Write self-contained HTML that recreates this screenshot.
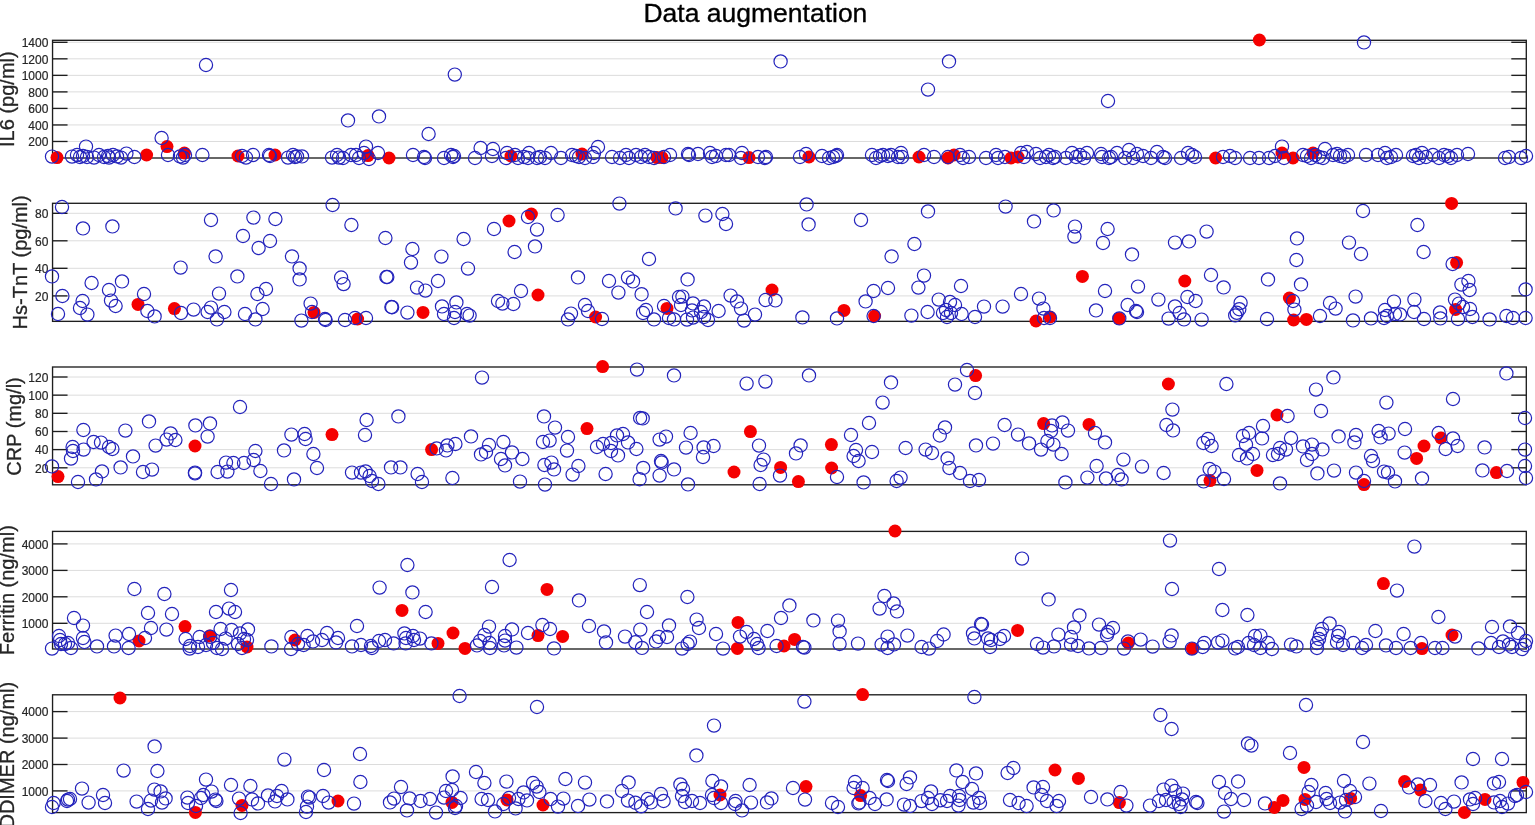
<!DOCTYPE html><html><head><meta charset="utf-8"><title>Data augmentation</title>
<style>html,body{margin:0;padding:0;background:#fff;overflow:hidden;}svg{display:block;}text{font-family:"Liberation Sans",Arial,Helvetica,sans-serif;}</style></head><body>
<svg width="1535" height="825" viewBox="0 0 1535 825">
<rect width="1535" height="825" fill="#fff"/>
<text transform="translate(755.4,21.9)" font-size="26.5" text-anchor="middle" fill="#000" stroke="#000" stroke-width="0.35">Data augmentation</text>
<line x1="52.55" y1="42.3" x2="1526.3" y2="42.3" stroke="#dcdcdc" stroke-width="1"/>
<line x1="52.55" y1="58.83" x2="1526.3" y2="58.83" stroke="#dcdcdc" stroke-width="1"/>
<line x1="52.55" y1="75.36" x2="1526.3" y2="75.36" stroke="#dcdcdc" stroke-width="1"/>
<line x1="52.55" y1="91.89" x2="1526.3" y2="91.89" stroke="#dcdcdc" stroke-width="1"/>
<line x1="52.55" y1="108.42" x2="1526.3" y2="108.42" stroke="#dcdcdc" stroke-width="1"/>
<line x1="52.55" y1="124.95" x2="1526.3" y2="124.95" stroke="#dcdcdc" stroke-width="1"/>
<line x1="52.55" y1="141.48" x2="1526.3" y2="141.48" stroke="#dcdcdc" stroke-width="1"/>
<line x1="52.55" y1="42.3" x2="67.55" y2="42.3" stroke="#1e1e1e" stroke-width="1.35"/>
<line x1="1511.3" y1="42.3" x2="1526.3" y2="42.3" stroke="#1e1e1e" stroke-width="1.35"/>
<line x1="52.55" y1="58.83" x2="67.55" y2="58.83" stroke="#1e1e1e" stroke-width="1.35"/>
<line x1="1511.3" y1="58.83" x2="1526.3" y2="58.83" stroke="#1e1e1e" stroke-width="1.35"/>
<line x1="52.55" y1="75.36" x2="67.55" y2="75.36" stroke="#1e1e1e" stroke-width="1.35"/>
<line x1="1511.3" y1="75.36" x2="1526.3" y2="75.36" stroke="#1e1e1e" stroke-width="1.35"/>
<line x1="52.55" y1="91.89" x2="67.55" y2="91.89" stroke="#1e1e1e" stroke-width="1.35"/>
<line x1="1511.3" y1="91.89" x2="1526.3" y2="91.89" stroke="#1e1e1e" stroke-width="1.35"/>
<line x1="52.55" y1="108.42" x2="67.55" y2="108.42" stroke="#1e1e1e" stroke-width="1.35"/>
<line x1="1511.3" y1="108.42" x2="1526.3" y2="108.42" stroke="#1e1e1e" stroke-width="1.35"/>
<line x1="52.55" y1="124.95" x2="67.55" y2="124.95" stroke="#1e1e1e" stroke-width="1.35"/>
<line x1="1511.3" y1="124.95" x2="1526.3" y2="124.95" stroke="#1e1e1e" stroke-width="1.35"/>
<line x1="52.55" y1="141.48" x2="67.55" y2="141.48" stroke="#1e1e1e" stroke-width="1.35"/>
<line x1="1511.3" y1="141.48" x2="1526.3" y2="141.48" stroke="#1e1e1e" stroke-width="1.35"/>
<rect x="52.55" y="40.3" width="1473.75" height="117.7" fill="none" stroke="#1e1e1e" stroke-width="1.35"/>
<text x="48.4" y="47.15" font-size="12" text-anchor="end" fill="#262626" stroke="#262626" stroke-width="0.2">1400</text>
<text x="48.4" y="63.68" font-size="12" text-anchor="end" fill="#262626" stroke="#262626" stroke-width="0.2">1200</text>
<text x="48.4" y="80.21" font-size="12" text-anchor="end" fill="#262626" stroke="#262626" stroke-width="0.2">1000</text>
<text x="48.4" y="96.74" font-size="12" text-anchor="end" fill="#262626" stroke="#262626" stroke-width="0.2">800</text>
<text x="48.4" y="113.27" font-size="12" text-anchor="end" fill="#262626" stroke="#262626" stroke-width="0.2">600</text>
<text x="48.4" y="129.8" font-size="12" text-anchor="end" fill="#262626" stroke="#262626" stroke-width="0.2">400</text>
<text x="48.4" y="146.33" font-size="12" text-anchor="end" fill="#262626" stroke="#262626" stroke-width="0.2">200</text>
<text transform="translate(14.1,99.15) rotate(-90)" font-size="20" text-anchor="middle" fill="#262626" stroke="#262626" stroke-width="0.3">IL6 (pg/ml)</text>
<g fill="#f50000"><circle cx="57" cy="157.6" r="6.5"/><circle cx="146.6" cy="155" r="6.5"/><circle cx="167" cy="146.6" r="6.5"/><circle cx="184.4" cy="153" r="6.5"/><circle cx="238" cy="156" r="6.5"/><circle cx="275" cy="155" r="6.5"/><circle cx="368" cy="155.6" r="6.5"/><circle cx="389" cy="158" r="6.5"/><circle cx="511" cy="156" r="6.5"/><circle cx="582" cy="154" r="6.5"/><circle cx="657" cy="157.6" r="6.5"/><circle cx="662" cy="157.6" r="6.5"/><circle cx="749" cy="157.6" r="6.5"/><circle cx="809" cy="157" r="6.5"/><circle cx="919" cy="157" r="6.5"/><circle cx="948" cy="158" r="6.5"/><circle cx="954" cy="155" r="6.5"/><circle cx="1011" cy="158" r="6.5"/><circle cx="1018" cy="157" r="6.5"/><circle cx="1215.6" cy="158" r="6.5"/><circle cx="1259.4" cy="40" r="6.5"/><circle cx="1282" cy="153" r="6.5"/><circle cx="1293" cy="158" r="6.5"/><circle cx="1313" cy="153" r="6.5"/></g>
<g fill="none" stroke="#2424bc" stroke-width="1.2"><circle cx="52" cy="156.6" r="6.6"/><circle cx="72" cy="156.6" r="6.6"/><circle cx="77" cy="155" r="6.6"/><circle cx="80" cy="157" r="6.6"/><circle cx="83" cy="156" r="6.6"/><circle cx="87" cy="157" r="6.6"/><circle cx="86" cy="146.6" r="6.6"/><circle cx="94" cy="157.6" r="6.6"/><circle cx="99" cy="155" r="6.6"/><circle cx="104" cy="157" r="6.6"/><circle cx="108" cy="156" r="6.6"/><circle cx="109" cy="157.6" r="6.6"/><circle cx="113" cy="155" r="6.6"/><circle cx="117" cy="156.4" r="6.6"/><circle cx="121" cy="157.6" r="6.6"/><circle cx="126.4" cy="153.6" r="6.6"/><circle cx="134.4" cy="157" r="6.6"/><circle cx="161.6" cy="138" r="6.6"/><circle cx="168" cy="155" r="6.6"/><circle cx="180" cy="156.4" r="6.6"/><circle cx="183" cy="157.6" r="6.6"/><circle cx="185" cy="155" r="6.6"/><circle cx="202.4" cy="155" r="6.6"/><circle cx="206" cy="65" r="6.6"/><circle cx="242" cy="156" r="6.6"/><circle cx="246" cy="157.6" r="6.6"/><circle cx="253" cy="155" r="6.6"/><circle cx="269" cy="155" r="6.6"/><circle cx="270" cy="156" r="6.6"/><circle cx="288" cy="157.6" r="6.6"/><circle cx="293" cy="155" r="6.6"/><circle cx="295" cy="157" r="6.6"/><circle cx="297" cy="156.4" r="6.6"/><circle cx="302" cy="156.4" r="6.6"/><circle cx="332" cy="157.6" r="6.6"/><circle cx="337" cy="155" r="6.6"/><circle cx="339" cy="157.6" r="6.6"/><circle cx="348" cy="120.4" r="6.6"/><circle cx="379" cy="116.4" r="6.6"/><circle cx="428.6" cy="134" r="6.6"/><circle cx="454.8" cy="74.6" r="6.6"/><circle cx="343" cy="158" r="6.6"/><circle cx="351" cy="155" r="6.6"/><circle cx="356" cy="155" r="6.6"/><circle cx="359" cy="158" r="6.6"/><circle cx="364" cy="153" r="6.6"/><circle cx="366" cy="146.6" r="6.6"/><circle cx="369" cy="159" r="6.6"/><circle cx="378" cy="153" r="6.6"/><circle cx="413" cy="155" r="6.6"/><circle cx="424" cy="157" r="6.6"/><circle cx="425" cy="158" r="6.6"/><circle cx="444" cy="158" r="6.6"/><circle cx="451" cy="155" r="6.6"/><circle cx="453" cy="157" r="6.6"/><circle cx="454" cy="156" r="6.6"/><circle cx="475" cy="158" r="6.6"/><circle cx="480.6" cy="148" r="6.6"/><circle cx="492" cy="156" r="6.6"/><circle cx="493" cy="149" r="6.6"/><circle cx="507" cy="153" r="6.6"/><circle cx="506" cy="158" r="6.6"/><circle cx="515" cy="155" r="6.6"/><circle cx="518" cy="158" r="6.6"/><circle cx="524" cy="157" r="6.6"/><circle cx="529" cy="153" r="6.6"/><circle cx="528" cy="158" r="6.6"/><circle cx="537" cy="158" r="6.6"/><circle cx="540" cy="157" r="6.6"/><circle cx="545" cy="158" r="6.6"/><circle cx="551" cy="153" r="6.6"/><circle cx="561" cy="158" r="6.6"/><circle cx="572" cy="155" r="6.6"/><circle cx="576" cy="156" r="6.6"/><circle cx="579" cy="157" r="6.6"/><circle cx="585" cy="158" r="6.6"/><circle cx="593" cy="157" r="6.6"/><circle cx="594" cy="153" r="6.6"/><circle cx="598" cy="147" r="6.6"/><circle cx="612" cy="157" r="6.6"/><circle cx="620" cy="158" r="6.6"/><circle cx="626" cy="155" r="6.6"/><circle cx="629" cy="158" r="6.6"/><circle cx="636" cy="155" r="6.6"/><circle cx="780.6" cy="61.4" r="6.6"/><circle cx="928" cy="89.6" r="6.6"/><circle cx="641" cy="157" r="6.6"/><circle cx="645" cy="155" r="6.6"/><circle cx="649" cy="157" r="6.6"/><circle cx="654" cy="158" r="6.6"/><circle cx="664" cy="157" r="6.6"/><circle cx="670" cy="155" r="6.6"/><circle cx="688" cy="154" r="6.6"/><circle cx="689" cy="155" r="6.6"/><circle cx="698" cy="154" r="6.6"/><circle cx="710" cy="153" r="6.6"/><circle cx="712" cy="157" r="6.6"/><circle cx="716" cy="156" r="6.6"/><circle cx="726" cy="155" r="6.6"/><circle cx="729" cy="155" r="6.6"/><circle cx="742" cy="153" r="6.6"/><circle cx="741" cy="158" r="6.6"/><circle cx="758" cy="157" r="6.6"/><circle cx="765" cy="158" r="6.6"/><circle cx="766" cy="157" r="6.6"/><circle cx="800" cy="157" r="6.6"/><circle cx="806" cy="154" r="6.6"/><circle cx="822" cy="156" r="6.6"/><circle cx="829" cy="158" r="6.6"/><circle cx="833" cy="157" r="6.6"/><circle cx="836" cy="156" r="6.6"/><circle cx="837" cy="155" r="6.6"/><circle cx="872" cy="155" r="6.6"/><circle cx="876" cy="158" r="6.6"/><circle cx="880" cy="156" r="6.6"/><circle cx="883" cy="155" r="6.6"/><circle cx="888" cy="156" r="6.6"/><circle cx="891" cy="155" r="6.6"/><circle cx="898" cy="157" r="6.6"/><circle cx="901" cy="153" r="6.6"/><circle cx="902" cy="157" r="6.6"/><circle cx="924" cy="155" r="6.6"/><circle cx="934" cy="157" r="6.6"/><circle cx="949" cy="61.4" r="6.6"/><circle cx="1108" cy="101" r="6.6"/><circle cx="948" cy="157" r="6.6"/><circle cx="960" cy="155" r="6.6"/><circle cx="963" cy="158" r="6.6"/><circle cx="969" cy="157" r="6.6"/><circle cx="986" cy="158" r="6.6"/><circle cx="996" cy="155" r="6.6"/><circle cx="998" cy="158" r="6.6"/><circle cx="1005" cy="157" r="6.6"/><circle cx="1021" cy="153" r="6.6"/><circle cx="1027" cy="152" r="6.6"/><circle cx="1024" cy="157" r="6.6"/><circle cx="1036" cy="154" r="6.6"/><circle cx="1040" cy="158" r="6.6"/><circle cx="1046" cy="157" r="6.6"/><circle cx="1049" cy="155" r="6.6"/><circle cx="1053" cy="158" r="6.6"/><circle cx="1055" cy="157" r="6.6"/><circle cx="1066" cy="158" r="6.6"/><circle cx="1072" cy="153" r="6.6"/><circle cx="1076" cy="157" r="6.6"/><circle cx="1080" cy="155" r="6.6"/><circle cx="1084" cy="158" r="6.6"/><circle cx="1087" cy="153" r="6.6"/><circle cx="1101" cy="154" r="6.6"/><circle cx="1102" cy="157" r="6.6"/><circle cx="1109" cy="158" r="6.6"/><circle cx="1111" cy="157" r="6.6"/><circle cx="1117" cy="153" r="6.6"/><circle cx="1125" cy="158" r="6.6"/><circle cx="1129" cy="150" r="6.6"/><circle cx="1133" cy="158" r="6.6"/><circle cx="1137" cy="154" r="6.6"/><circle cx="1143" cy="156" r="6.6"/><circle cx="1151" cy="158" r="6.6"/><circle cx="1157" cy="152" r="6.6"/><circle cx="1163" cy="157" r="6.6"/><circle cx="1165" cy="158" r="6.6"/><circle cx="1181" cy="158" r="6.6"/><circle cx="1188" cy="153" r="6.6"/><circle cx="1192" cy="155" r="6.6"/><circle cx="1195" cy="157" r="6.6"/><circle cx="1223" cy="157" r="6.6"/><circle cx="1230" cy="156" r="6.6"/><circle cx="1235" cy="158" r="6.6"/><circle cx="1364" cy="42.4" r="6.6"/><circle cx="1250" cy="158" r="6.6"/><circle cx="1259" cy="158" r="6.6"/><circle cx="1269" cy="158" r="6.6"/><circle cx="1275" cy="156" r="6.6"/><circle cx="1282" cy="146.6" r="6.6"/><circle cx="1284" cy="158" r="6.6"/><circle cx="1303" cy="155" r="6.6"/><circle cx="1307" cy="156" r="6.6"/><circle cx="1311" cy="158" r="6.6"/><circle cx="1315" cy="155" r="6.6"/><circle cx="1319" cy="157" r="6.6"/><circle cx="1323" cy="158" r="6.6"/><circle cx="1325" cy="149" r="6.6"/><circle cx="1333" cy="155" r="6.6"/><circle cx="1337" cy="154" r="6.6"/><circle cx="1340" cy="156" r="6.6"/><circle cx="1344" cy="157" r="6.6"/><circle cx="1348" cy="155" r="6.6"/><circle cx="1366" cy="155" r="6.6"/><circle cx="1378" cy="155" r="6.6"/><circle cx="1385" cy="153" r="6.6"/><circle cx="1387" cy="158" r="6.6"/><circle cx="1391" cy="157" r="6.6"/><circle cx="1396" cy="155" r="6.6"/><circle cx="1413" cy="156" r="6.6"/><circle cx="1416" cy="155" r="6.6"/><circle cx="1419" cy="158" r="6.6"/><circle cx="1422" cy="153" r="6.6"/><circle cx="1426" cy="157" r="6.6"/><circle cx="1433" cy="155" r="6.6"/><circle cx="1439" cy="158" r="6.6"/><circle cx="1444" cy="155" r="6.6"/><circle cx="1448" cy="156" r="6.6"/><circle cx="1451" cy="158" r="6.6"/><circle cx="1457" cy="155" r="6.6"/><circle cx="1468" cy="154" r="6.6"/><circle cx="1505" cy="158" r="6.6"/><circle cx="1509" cy="157" r="6.6"/><circle cx="1521" cy="158" r="6.6"/><circle cx="1526" cy="156" r="6.6"/></g>
<line x1="52.55" y1="213.3" x2="1526.3" y2="213.3" stroke="#dcdcdc" stroke-width="1"/>
<line x1="52.55" y1="240.8" x2="1526.3" y2="240.8" stroke="#dcdcdc" stroke-width="1"/>
<line x1="52.55" y1="268.3" x2="1526.3" y2="268.3" stroke="#dcdcdc" stroke-width="1"/>
<line x1="52.55" y1="295.9" x2="1526.3" y2="295.9" stroke="#dcdcdc" stroke-width="1"/>
<line x1="52.55" y1="213.3" x2="67.55" y2="213.3" stroke="#1e1e1e" stroke-width="1.35"/>
<line x1="1511.3" y1="213.3" x2="1526.3" y2="213.3" stroke="#1e1e1e" stroke-width="1.35"/>
<line x1="52.55" y1="240.8" x2="67.55" y2="240.8" stroke="#1e1e1e" stroke-width="1.35"/>
<line x1="1511.3" y1="240.8" x2="1526.3" y2="240.8" stroke="#1e1e1e" stroke-width="1.35"/>
<line x1="52.55" y1="268.3" x2="67.55" y2="268.3" stroke="#1e1e1e" stroke-width="1.35"/>
<line x1="1511.3" y1="268.3" x2="1526.3" y2="268.3" stroke="#1e1e1e" stroke-width="1.35"/>
<line x1="52.55" y1="295.9" x2="67.55" y2="295.9" stroke="#1e1e1e" stroke-width="1.35"/>
<line x1="1511.3" y1="295.9" x2="1526.3" y2="295.9" stroke="#1e1e1e" stroke-width="1.35"/>
<rect x="52.55" y="203.3" width="1473.75" height="118.05" fill="none" stroke="#1e1e1e" stroke-width="1.35"/>
<text x="48.4" y="218.15" font-size="12" text-anchor="end" fill="#262626" stroke="#262626" stroke-width="0.2">80</text>
<text x="48.4" y="245.65" font-size="12" text-anchor="end" fill="#262626" stroke="#262626" stroke-width="0.2">60</text>
<text x="48.4" y="273.15" font-size="12" text-anchor="end" fill="#262626" stroke="#262626" stroke-width="0.2">40</text>
<text x="48.4" y="300.75" font-size="12" text-anchor="end" fill="#262626" stroke="#262626" stroke-width="0.2">20</text>
<text transform="translate(27.3,262.33) rotate(-90)" font-size="20" text-anchor="middle" fill="#262626" stroke="#262626" stroke-width="0.3">Hs-TnT (pg/ml)</text>
<g fill="#f50000"><circle cx="138" cy="304.4" r="6.5"/><circle cx="174.4" cy="308.6" r="6.5"/><circle cx="314" cy="312.4" r="6.5"/><circle cx="509" cy="221" r="6.5"/><circle cx="531.4" cy="214" r="6.5"/><circle cx="538" cy="295" r="6.5"/><circle cx="423" cy="312.4" r="6.5"/><circle cx="357.6" cy="319" r="6.5"/><circle cx="595.6" cy="317" r="6.5"/><circle cx="667" cy="308.4" r="6.5"/><circle cx="772" cy="290" r="6.5"/><circle cx="844" cy="310.4" r="6.5"/><circle cx="874.6" cy="316" r="6.5"/><circle cx="1082.4" cy="276.4" r="6.5"/><circle cx="1184.8" cy="281" r="6.5"/><circle cx="1036" cy="321" r="6.5"/><circle cx="1050" cy="317" r="6.5"/><circle cx="1119" cy="318.6" r="6.5"/><circle cx="1451.6" cy="203.4" r="6.5"/><circle cx="1456.6" cy="262.6" r="6.5"/><circle cx="1289.4" cy="298" r="6.5"/><circle cx="1293.6" cy="320" r="6.5"/><circle cx="1306.4" cy="319.4" r="6.5"/><circle cx="1455.6" cy="309.4" r="6.5"/></g>
<g fill="none" stroke="#2424bc" stroke-width="1.2"><circle cx="62" cy="207" r="6.6"/><circle cx="83" cy="228.4" r="6.6"/><circle cx="112.4" cy="226.4" r="6.6"/><circle cx="211" cy="220" r="6.6"/><circle cx="253.4" cy="217.6" r="6.6"/><circle cx="275.4" cy="219" r="6.6"/><circle cx="332.6" cy="205" r="6.6"/><circle cx="243" cy="236" r="6.6"/><circle cx="270" cy="241" r="6.6"/><circle cx="258.6" cy="248" r="6.6"/><circle cx="215.6" cy="256.4" r="6.6"/><circle cx="292" cy="256.4" r="6.6"/><circle cx="180.6" cy="267.6" r="6.6"/><circle cx="299.6" cy="268.4" r="6.6"/><circle cx="52" cy="276.4" r="6.6"/><circle cx="237.4" cy="276.4" r="6.6"/><circle cx="299.6" cy="279.4" r="6.6"/><circle cx="341.1" cy="277.5" r="6.6"/><circle cx="343.6" cy="284.1" r="6.6"/><circle cx="91.6" cy="283" r="6.6"/><circle cx="122" cy="281.4" r="6.6"/><circle cx="109" cy="290" r="6.6"/><circle cx="144" cy="294" r="6.6"/><circle cx="219" cy="293.6" r="6.6"/><circle cx="266" cy="289" r="6.6"/><circle cx="257.4" cy="294" r="6.6"/><circle cx="62.4" cy="296" r="6.6"/><circle cx="82.6" cy="301" r="6.6"/><circle cx="111" cy="300.6" r="6.6"/><circle cx="115.6" cy="306" r="6.6"/><circle cx="80" cy="308" r="6.6"/><circle cx="58" cy="314" r="6.6"/><circle cx="87.4" cy="314.6" r="6.6"/><circle cx="147.4" cy="311" r="6.6"/><circle cx="154.6" cy="316.4" r="6.6"/><circle cx="181" cy="313" r="6.6"/><circle cx="193.6" cy="309.6" r="6.6"/><circle cx="211" cy="307.6" r="6.6"/><circle cx="207.6" cy="312" r="6.6"/><circle cx="224.4" cy="312" r="6.6"/><circle cx="217" cy="319.4" r="6.6"/><circle cx="245" cy="314" r="6.6"/><circle cx="255.4" cy="319.4" r="6.6"/><circle cx="262.6" cy="309" r="6.6"/><circle cx="310.6" cy="303.6" r="6.6"/><circle cx="312" cy="312" r="6.6"/><circle cx="301.4" cy="320.6" r="6.6"/><circle cx="325" cy="319" r="6.6"/><circle cx="325.6" cy="320" r="6.6"/><circle cx="351.4" cy="225" r="6.6"/><circle cx="385.4" cy="238" r="6.6"/><circle cx="412.4" cy="249" r="6.6"/><circle cx="411" cy="262.6" r="6.6"/><circle cx="441.4" cy="256.6" r="6.6"/><circle cx="463.6" cy="239" r="6.6"/><circle cx="468" cy="268.6" r="6.6"/><circle cx="494" cy="229" r="6.6"/><circle cx="528" cy="217" r="6.6"/><circle cx="537" cy="229.6" r="6.6"/><circle cx="557.6" cy="215" r="6.6"/><circle cx="619.4" cy="203.6" r="6.6"/><circle cx="514.6" cy="252" r="6.6"/><circle cx="535" cy="246.4" r="6.6"/><circle cx="386.4" cy="277" r="6.6"/><circle cx="387.3" cy="277" r="6.6"/><circle cx="438" cy="281" r="6.6"/><circle cx="417" cy="287.6" r="6.6"/><circle cx="425.4" cy="290.6" r="6.6"/><circle cx="521" cy="291" r="6.6"/><circle cx="578" cy="277.4" r="6.6"/><circle cx="609" cy="281" r="6.6"/><circle cx="618.4" cy="292.6" r="6.6"/><circle cx="628" cy="277.6" r="6.6"/><circle cx="633" cy="281.4" r="6.6"/><circle cx="641.6" cy="294.2" r="6.6"/><circle cx="391.4" cy="307" r="6.6"/><circle cx="392.1" cy="307.2" r="6.6"/><circle cx="407.4" cy="312.6" r="6.6"/><circle cx="442" cy="306.4" r="6.6"/><circle cx="444" cy="314" r="6.6"/><circle cx="456.4" cy="302.4" r="6.6"/><circle cx="455" cy="312" r="6.6"/><circle cx="454" cy="318" r="6.6"/><circle cx="467" cy="314" r="6.6"/><circle cx="469.6" cy="315.6" r="6.6"/><circle cx="498" cy="301" r="6.6"/><circle cx="502.4" cy="303.6" r="6.6"/><circle cx="513.4" cy="304" r="6.6"/><circle cx="585" cy="305" r="6.6"/><circle cx="588" cy="311" r="6.6"/><circle cx="571" cy="313.6" r="6.6"/><circle cx="568" cy="319.4" r="6.6"/><circle cx="602" cy="319" r="6.6"/><circle cx="345" cy="320" r="6.6"/><circle cx="355" cy="318" r="6.6"/><circle cx="366" cy="318" r="6.6"/><circle cx="675.6" cy="208.4" r="6.6"/><circle cx="705.4" cy="215.6" r="6.6"/><circle cx="722.4" cy="214" r="6.6"/><circle cx="726" cy="224" r="6.6"/><circle cx="806.6" cy="204.4" r="6.6"/><circle cx="808.6" cy="224.4" r="6.6"/><circle cx="861" cy="220" r="6.6"/><circle cx="928" cy="211.4" r="6.6"/><circle cx="649" cy="259" r="6.6"/><circle cx="914.4" cy="244" r="6.6"/><circle cx="891.6" cy="256.4" r="6.6"/><circle cx="687.6" cy="279.4" r="6.6"/><circle cx="924" cy="275.6" r="6.6"/><circle cx="918.4" cy="287.6" r="6.6"/><circle cx="888" cy="288" r="6.6"/><circle cx="873.6" cy="291" r="6.6"/><circle cx="679" cy="297" r="6.6"/><circle cx="682.4" cy="296.6" r="6.6"/><circle cx="730.6" cy="295.6" r="6.6"/><circle cx="737" cy="301.4" r="6.6"/><circle cx="741" cy="308.6" r="6.6"/><circle cx="765.6" cy="300" r="6.6"/><circle cx="775.4" cy="300.4" r="6.6"/><circle cx="865.6" cy="301.4" r="6.6"/><circle cx="938.7" cy="299.6" r="6.6"/><circle cx="664" cy="306" r="6.6"/><circle cx="681" cy="305" r="6.6"/><circle cx="693" cy="303.4" r="6.6"/><circle cx="704" cy="306.4" r="6.6"/><circle cx="692" cy="310.4" r="6.6"/><circle cx="701" cy="312" r="6.6"/><circle cx="646" cy="310" r="6.6"/><circle cx="643" cy="313" r="6.6"/><circle cx="654" cy="319.4" r="6.6"/><circle cx="669" cy="318" r="6.6"/><circle cx="674" cy="319.4" r="6.6"/><circle cx="687" cy="319.6" r="6.6"/><circle cx="693" cy="317.6" r="6.6"/><circle cx="704" cy="317" r="6.6"/><circle cx="708" cy="320" r="6.6"/><circle cx="718.6" cy="311" r="6.6"/><circle cx="744" cy="320.6" r="6.6"/><circle cx="755" cy="314.6" r="6.6"/><circle cx="802.4" cy="317.4" r="6.6"/><circle cx="837" cy="318.4" r="6.6"/><circle cx="873.6" cy="316" r="6.6"/><circle cx="911.4" cy="315.6" r="6.6"/><circle cx="927.6" cy="312" r="6.6"/><circle cx="1005.6" cy="206.6" r="6.6"/><circle cx="1053.6" cy="210.4" r="6.6"/><circle cx="1034" cy="221.4" r="6.6"/><circle cx="1075" cy="226.6" r="6.6"/><circle cx="1074.4" cy="236.6" r="6.6"/><circle cx="1107.6" cy="229" r="6.6"/><circle cx="1103" cy="243" r="6.6"/><circle cx="1132" cy="254.4" r="6.6"/><circle cx="1175" cy="242.6" r="6.6"/><circle cx="1189" cy="241.4" r="6.6"/><circle cx="1206.6" cy="231.6" r="6.6"/><circle cx="961" cy="286" r="6.6"/><circle cx="1021" cy="294" r="6.6"/><circle cx="1039" cy="298.6" r="6.6"/><circle cx="1043.4" cy="308.6" r="6.6"/><circle cx="1105" cy="291" r="6.6"/><circle cx="1138" cy="286.6" r="6.6"/><circle cx="1211" cy="275" r="6.6"/><circle cx="1223.6" cy="287.4" r="6.6"/><circle cx="1158.4" cy="299.6" r="6.6"/><circle cx="1187.4" cy="297" r="6.6"/><circle cx="1195.6" cy="301" r="6.6"/><circle cx="1175" cy="306.4" r="6.6"/><circle cx="1179.6" cy="313" r="6.6"/><circle cx="1168.6" cy="318.6" r="6.6"/><circle cx="1184" cy="319.4" r="6.6"/><circle cx="1201.6" cy="319.6" r="6.6"/><circle cx="1127.6" cy="305" r="6.6"/><circle cx="1136" cy="311" r="6.6"/><circle cx="1137" cy="312" r="6.6"/><circle cx="1096" cy="310.4" r="6.6"/><circle cx="984" cy="306.6" r="6.6"/><circle cx="1002.6" cy="306.6" r="6.6"/><circle cx="975" cy="317" r="6.6"/><circle cx="961.6" cy="314" r="6.6"/><circle cx="950" cy="302" r="6.6"/><circle cx="955" cy="305" r="6.6"/><circle cx="946" cy="310" r="6.6"/><circle cx="947" cy="317" r="6.6"/><circle cx="943" cy="313" r="6.6"/><circle cx="951" cy="313" r="6.6"/><circle cx="1044" cy="318" r="6.6"/><circle cx="1050" cy="318" r="6.6"/><circle cx="1119.3" cy="318.4" r="6.6"/><circle cx="1363" cy="211" r="6.6"/><circle cx="1417.4" cy="225" r="6.6"/><circle cx="1297" cy="238.4" r="6.6"/><circle cx="1349" cy="242.6" r="6.6"/><circle cx="1361" cy="254" r="6.6"/><circle cx="1423.6" cy="252" r="6.6"/><circle cx="1296.4" cy="260" r="6.6"/><circle cx="1452.6" cy="264" r="6.6"/><circle cx="1268" cy="279.4" r="6.6"/><circle cx="1301" cy="284.4" r="6.6"/><circle cx="1461.4" cy="284.6" r="6.6"/><circle cx="1468.4" cy="281" r="6.6"/><circle cx="1469.6" cy="290" r="6.6"/><circle cx="1525.6" cy="289.4" r="6.6"/><circle cx="1355.6" cy="296.6" r="6.6"/><circle cx="1394" cy="301.6" r="6.6"/><circle cx="1414.4" cy="299.6" r="6.6"/><circle cx="1330" cy="303" r="6.6"/><circle cx="1335.6" cy="308.6" r="6.6"/><circle cx="1293" cy="301" r="6.6"/><circle cx="1294.4" cy="309.6" r="6.6"/><circle cx="1240.6" cy="302.8" r="6.6"/><circle cx="1239.3" cy="309.2" r="6.6"/><circle cx="1236.8" cy="312.8" r="6.6"/><circle cx="1235.2" cy="315.4" r="6.6"/><circle cx="1455" cy="299.6" r="6.6"/><circle cx="1459" cy="303.6" r="6.6"/><circle cx="1463" cy="307" r="6.6"/><circle cx="1470" cy="309" r="6.6"/><circle cx="1385" cy="310" r="6.6"/><circle cx="1387" cy="316" r="6.6"/><circle cx="1395" cy="314" r="6.6"/><circle cx="1400" cy="314.4" r="6.6"/><circle cx="1414" cy="312" r="6.6"/><circle cx="1440" cy="312.4" r="6.6"/><circle cx="1267" cy="319" r="6.6"/><circle cx="1320" cy="316" r="6.6"/><circle cx="1353" cy="320.4" r="6.6"/><circle cx="1371" cy="318.4" r="6.6"/><circle cx="1384" cy="318" r="6.6"/><circle cx="1424" cy="319" r="6.6"/><circle cx="1440.4" cy="318.4" r="6.6"/><circle cx="1458" cy="319" r="6.6"/><circle cx="1472.4" cy="317" r="6.6"/><circle cx="1489.6" cy="319.4" r="6.6"/><circle cx="1506.4" cy="316" r="6.6"/><circle cx="1513" cy="318" r="6.6"/><circle cx="1525.6" cy="318" r="6.6"/></g>
<line x1="52.55" y1="377" x2="1526.3" y2="377" stroke="#dcdcdc" stroke-width="1"/>
<line x1="52.55" y1="395.15" x2="1526.3" y2="395.15" stroke="#dcdcdc" stroke-width="1"/>
<line x1="52.55" y1="413.3" x2="1526.3" y2="413.3" stroke="#dcdcdc" stroke-width="1"/>
<line x1="52.55" y1="431.5" x2="1526.3" y2="431.5" stroke="#dcdcdc" stroke-width="1"/>
<line x1="52.55" y1="449.6" x2="1526.3" y2="449.6" stroke="#dcdcdc" stroke-width="1"/>
<line x1="52.55" y1="467.8" x2="1526.3" y2="467.8" stroke="#dcdcdc" stroke-width="1"/>
<line x1="52.55" y1="377" x2="67.55" y2="377" stroke="#1e1e1e" stroke-width="1.35"/>
<line x1="1511.3" y1="377" x2="1526.3" y2="377" stroke="#1e1e1e" stroke-width="1.35"/>
<line x1="52.55" y1="395.15" x2="67.55" y2="395.15" stroke="#1e1e1e" stroke-width="1.35"/>
<line x1="1511.3" y1="395.15" x2="1526.3" y2="395.15" stroke="#1e1e1e" stroke-width="1.35"/>
<line x1="52.55" y1="413.3" x2="67.55" y2="413.3" stroke="#1e1e1e" stroke-width="1.35"/>
<line x1="1511.3" y1="413.3" x2="1526.3" y2="413.3" stroke="#1e1e1e" stroke-width="1.35"/>
<line x1="52.55" y1="431.5" x2="67.55" y2="431.5" stroke="#1e1e1e" stroke-width="1.35"/>
<line x1="1511.3" y1="431.5" x2="1526.3" y2="431.5" stroke="#1e1e1e" stroke-width="1.35"/>
<line x1="52.55" y1="449.6" x2="67.55" y2="449.6" stroke="#1e1e1e" stroke-width="1.35"/>
<line x1="1511.3" y1="449.6" x2="1526.3" y2="449.6" stroke="#1e1e1e" stroke-width="1.35"/>
<line x1="52.55" y1="467.8" x2="67.55" y2="467.8" stroke="#1e1e1e" stroke-width="1.35"/>
<line x1="1511.3" y1="467.8" x2="1526.3" y2="467.8" stroke="#1e1e1e" stroke-width="1.35"/>
<rect x="52.55" y="367" width="1473.75" height="117.8" fill="none" stroke="#1e1e1e" stroke-width="1.35"/>
<text x="48.4" y="381.85" font-size="12" text-anchor="end" fill="#262626" stroke="#262626" stroke-width="0.2">120</text>
<text x="48.4" y="400" font-size="12" text-anchor="end" fill="#262626" stroke="#262626" stroke-width="0.2">100</text>
<text x="48.4" y="418.15" font-size="12" text-anchor="end" fill="#262626" stroke="#262626" stroke-width="0.2">80</text>
<text x="48.4" y="436.35" font-size="12" text-anchor="end" fill="#262626" stroke="#262626" stroke-width="0.2">60</text>
<text x="48.4" y="454.45" font-size="12" text-anchor="end" fill="#262626" stroke="#262626" stroke-width="0.2">40</text>
<text x="48.4" y="472.65" font-size="12" text-anchor="end" fill="#262626" stroke="#262626" stroke-width="0.2">20</text>
<text transform="translate(20.7,426.5) rotate(-90)" font-size="20" text-anchor="middle" fill="#262626" stroke="#262626" stroke-width="0.3">CRP (mg/l)</text>
<g fill="#f50000"><circle cx="58" cy="476.6" r="6.5"/><circle cx="195" cy="446" r="6.5"/><circle cx="332" cy="434.6" r="6.5"/><circle cx="602.6" cy="366.6" r="6.5"/><circle cx="431.6" cy="449.6" r="6.5"/><circle cx="587" cy="428.6" r="6.5"/><circle cx="750.4" cy="431.6" r="6.5"/><circle cx="734" cy="472" r="6.5"/><circle cx="780.6" cy="467.4" r="6.5"/><circle cx="798.4" cy="481.6" r="6.5"/><circle cx="831.4" cy="444.6" r="6.5"/><circle cx="831.6" cy="468" r="6.5"/><circle cx="975.6" cy="375.6" r="6.5"/><circle cx="1168.4" cy="384" r="6.5"/><circle cx="1043.6" cy="423.6" r="6.5"/><circle cx="1089" cy="424.4" r="6.5"/><circle cx="1210" cy="480.6" r="6.5"/><circle cx="1277" cy="415" r="6.5"/><circle cx="1257" cy="470.4" r="6.5"/><circle cx="1364" cy="484.6" r="6.5"/><circle cx="1424" cy="446" r="6.5"/><circle cx="1416.6" cy="458.4" r="6.5"/><circle cx="1441" cy="438" r="6.5"/><circle cx="1496.4" cy="472.6" r="6.5"/></g>
<g fill="none" stroke="#2424bc" stroke-width="1.2"><circle cx="52" cy="466.4" r="6.6"/><circle cx="71" cy="458.6" r="6.6"/><circle cx="72.6" cy="447" r="6.6"/><circle cx="73" cy="451" r="6.6"/><circle cx="78" cy="482" r="6.6"/><circle cx="83.4" cy="430" r="6.6"/><circle cx="83.6" cy="449.6" r="6.6"/><circle cx="93.6" cy="442" r="6.6"/><circle cx="101" cy="442.6" r="6.6"/><circle cx="96" cy="479.4" r="6.6"/><circle cx="102" cy="471.4" r="6.6"/><circle cx="109" cy="447" r="6.6"/><circle cx="112.4" cy="449" r="6.6"/><circle cx="120.6" cy="467.4" r="6.6"/><circle cx="125.4" cy="430.6" r="6.6"/><circle cx="133" cy="456.4" r="6.6"/><circle cx="143" cy="472" r="6.6"/><circle cx="149" cy="421.4" r="6.6"/><circle cx="152" cy="469.6" r="6.6"/><circle cx="155.6" cy="445.6" r="6.6"/><circle cx="166.6" cy="439.6" r="6.6"/><circle cx="170.6" cy="433.4" r="6.6"/><circle cx="175.4" cy="440" r="6.6"/><circle cx="195.4" cy="425.4" r="6.6"/><circle cx="195" cy="472.6" r="6.6"/><circle cx="195" cy="473.4" r="6.6"/><circle cx="210" cy="423.4" r="6.6"/><circle cx="207.6" cy="436.6" r="6.6"/><circle cx="240" cy="407" r="6.6"/><circle cx="217.6" cy="472" r="6.6"/><circle cx="226" cy="462.6" r="6.6"/><circle cx="227.4" cy="471.6" r="6.6"/><circle cx="233.4" cy="463" r="6.6"/><circle cx="244" cy="463" r="6.6"/><circle cx="255.4" cy="451" r="6.6"/><circle cx="253.6" cy="460" r="6.6"/><circle cx="260.4" cy="471" r="6.6"/><circle cx="271" cy="484" r="6.6"/><circle cx="284" cy="450.4" r="6.6"/><circle cx="291.4" cy="434.6" r="6.6"/><circle cx="294" cy="479.4" r="6.6"/><circle cx="304.6" cy="434" r="6.6"/><circle cx="305.6" cy="439" r="6.6"/><circle cx="313.4" cy="454" r="6.6"/><circle cx="317" cy="468" r="6.6"/><circle cx="482" cy="377.6" r="6.6"/><circle cx="637" cy="369.6" r="6.6"/><circle cx="366.6" cy="420" r="6.6"/><circle cx="398.4" cy="416.4" r="6.6"/><circle cx="365" cy="435" r="6.6"/><circle cx="544" cy="416.4" r="6.6"/><circle cx="555" cy="427.6" r="6.6"/><circle cx="640.1" cy="417.9" r="6.6"/><circle cx="642.7" cy="418.4" r="6.6"/><circle cx="471" cy="436.4" r="6.6"/><circle cx="568" cy="437" r="6.6"/><circle cx="543" cy="442" r="6.6"/><circle cx="549.6" cy="440.6" r="6.6"/><circle cx="436.6" cy="448.4" r="6.6"/><circle cx="446" cy="450.4" r="6.6"/><circle cx="447.4" cy="445.4" r="6.6"/><circle cx="455.4" cy="444" r="6.6"/><circle cx="489" cy="445" r="6.6"/><circle cx="486" cy="452" r="6.6"/><circle cx="481" cy="454.4" r="6.6"/><circle cx="503.4" cy="442" r="6.6"/><circle cx="512" cy="452.4" r="6.6"/><circle cx="501" cy="459" r="6.6"/><circle cx="505" cy="465.4" r="6.6"/><circle cx="522.4" cy="459" r="6.6"/><circle cx="567" cy="450.6" r="6.6"/><circle cx="597" cy="447" r="6.6"/><circle cx="603" cy="444" r="6.6"/><circle cx="611" cy="443" r="6.6"/><circle cx="617" cy="435.4" r="6.6"/><circle cx="623" cy="434" r="6.6"/><circle cx="628" cy="442.4" r="6.6"/><circle cx="611" cy="451" r="6.6"/><circle cx="618" cy="455.4" r="6.6"/><circle cx="636.4" cy="449" r="6.6"/><circle cx="544.4" cy="465" r="6.6"/><circle cx="551.4" cy="462.6" r="6.6"/><circle cx="554" cy="469.4" r="6.6"/><circle cx="578.4" cy="466" r="6.6"/><circle cx="572.6" cy="474.6" r="6.6"/><circle cx="605.6" cy="474" r="6.6"/><circle cx="643.2" cy="467.9" r="6.6"/><circle cx="639.6" cy="479.2" r="6.6"/><circle cx="352" cy="472.6" r="6.6"/><circle cx="361" cy="472.6" r="6.6"/><circle cx="365.6" cy="471.4" r="6.6"/><circle cx="369.6" cy="476" r="6.6"/><circle cx="372" cy="481" r="6.6"/><circle cx="378.4" cy="484" r="6.6"/><circle cx="391" cy="467.4" r="6.6"/><circle cx="400.4" cy="467.4" r="6.6"/><circle cx="417.6" cy="474" r="6.6"/><circle cx="422" cy="482" r="6.6"/><circle cx="452.4" cy="478" r="6.6"/><circle cx="520" cy="481.6" r="6.6"/><circle cx="545" cy="484.6" r="6.6"/><circle cx="674" cy="375.4" r="6.6"/><circle cx="746.6" cy="383.6" r="6.6"/><circle cx="765.4" cy="381.6" r="6.6"/><circle cx="809" cy="375.4" r="6.6"/><circle cx="891" cy="382.4" r="6.6"/><circle cx="882.6" cy="402.6" r="6.6"/><circle cx="869" cy="423" r="6.6"/><circle cx="851" cy="435" r="6.6"/><circle cx="939.8" cy="435.5" r="6.6"/><circle cx="690.6" cy="433" r="6.6"/><circle cx="659.6" cy="439.6" r="6.6"/><circle cx="666" cy="436.6" r="6.6"/><circle cx="686" cy="447.6" r="6.6"/><circle cx="703.6" cy="447.4" r="6.6"/><circle cx="713.6" cy="446" r="6.6"/><circle cx="703" cy="457" r="6.6"/><circle cx="759" cy="445.6" r="6.6"/><circle cx="800.6" cy="445.4" r="6.6"/><circle cx="796" cy="453.4" r="6.6"/><circle cx="856" cy="450" r="6.6"/><circle cx="853.6" cy="456" r="6.6"/><circle cx="858.6" cy="461" r="6.6"/><circle cx="872" cy="452" r="6.6"/><circle cx="905.6" cy="448" r="6.6"/><circle cx="925.6" cy="449.6" r="6.6"/><circle cx="932" cy="453" r="6.6"/><circle cx="661" cy="461" r="6.6"/><circle cx="661.6" cy="462.4" r="6.6"/><circle cx="674" cy="469.4" r="6.6"/><circle cx="659.6" cy="475.6" r="6.6"/><circle cx="688" cy="484.4" r="6.6"/><circle cx="763.6" cy="459.6" r="6.6"/><circle cx="760.6" cy="465" r="6.6"/><circle cx="759.6" cy="484" r="6.6"/><circle cx="780" cy="475.6" r="6.6"/><circle cx="837" cy="477" r="6.6"/><circle cx="863.6" cy="482.4" r="6.6"/><circle cx="896.6" cy="481" r="6.6"/><circle cx="900.6" cy="477.6" r="6.6"/><circle cx="967" cy="370" r="6.6"/><circle cx="955" cy="384.6" r="6.6"/><circle cx="975" cy="393" r="6.6"/><circle cx="1226.4" cy="384" r="6.6"/><circle cx="1172.4" cy="409.6" r="6.6"/><circle cx="1166.4" cy="425" r="6.6"/><circle cx="1173" cy="430.4" r="6.6"/><circle cx="945" cy="427.4" r="6.6"/><circle cx="1004.6" cy="425" r="6.6"/><circle cx="1018" cy="434.6" r="6.6"/><circle cx="1029" cy="443.4" r="6.6"/><circle cx="1041" cy="449.6" r="6.6"/><circle cx="1047.4" cy="441" r="6.6"/><circle cx="1052" cy="425.4" r="6.6"/><circle cx="1051" cy="431" r="6.6"/><circle cx="1053.4" cy="444.6" r="6.6"/><circle cx="1062.4" cy="422.4" r="6.6"/><circle cx="1068" cy="430.6" r="6.6"/><circle cx="1061.6" cy="454" r="6.6"/><circle cx="1095" cy="433" r="6.6"/><circle cx="1105" cy="442.4" r="6.6"/><circle cx="976" cy="445.4" r="6.6"/><circle cx="993" cy="443.6" r="6.6"/><circle cx="1208" cy="439" r="6.6"/><circle cx="1203.4" cy="443" r="6.6"/><circle cx="1211.6" cy="446" r="6.6"/><circle cx="947.6" cy="458.4" r="6.6"/><circle cx="949.4" cy="468" r="6.6"/><circle cx="960" cy="473" r="6.6"/><circle cx="970" cy="481" r="6.6"/><circle cx="979" cy="480" r="6.6"/><circle cx="1065.4" cy="482.4" r="6.6"/><circle cx="1087.4" cy="477.6" r="6.6"/><circle cx="1096.6" cy="466" r="6.6"/><circle cx="1106" cy="478.4" r="6.6"/><circle cx="1118" cy="475" r="6.6"/><circle cx="1121.6" cy="479.4" r="6.6"/><circle cx="1123.4" cy="459.6" r="6.6"/><circle cx="1142" cy="466.6" r="6.6"/><circle cx="1163.6" cy="473" r="6.6"/><circle cx="1209.6" cy="469" r="6.6"/><circle cx="1214.4" cy="471.6" r="6.6"/><circle cx="1203.6" cy="481.4" r="6.6"/><circle cx="1224" cy="479" r="6.6"/><circle cx="1333.4" cy="377.4" r="6.6"/><circle cx="1316" cy="389.6" r="6.6"/><circle cx="1506.4" cy="373.4" r="6.6"/><circle cx="1453" cy="399" r="6.6"/><circle cx="1386.4" cy="402.6" r="6.6"/><circle cx="1321" cy="411" r="6.6"/><circle cx="1287.6" cy="416" r="6.6"/><circle cx="1525" cy="418" r="6.6"/><circle cx="1263" cy="426" r="6.6"/><circle cx="1249" cy="433" r="6.6"/><circle cx="1243" cy="436" r="6.6"/><circle cx="1262" cy="438.4" r="6.6"/><circle cx="1246" cy="444.6" r="6.6"/><circle cx="1239" cy="455" r="6.6"/><circle cx="1253" cy="454" r="6.6"/><circle cx="1247" cy="458.4" r="6.6"/><circle cx="1291" cy="438" r="6.6"/><circle cx="1280" cy="448" r="6.6"/><circle cx="1286" cy="449.6" r="6.6"/><circle cx="1278" cy="454" r="6.6"/><circle cx="1273" cy="455" r="6.6"/><circle cx="1303" cy="446.4" r="6.6"/><circle cx="1312" cy="444.6" r="6.6"/><circle cx="1312" cy="454" r="6.6"/><circle cx="1307" cy="460" r="6.6"/><circle cx="1322.4" cy="449.4" r="6.6"/><circle cx="1338.6" cy="436.4" r="6.6"/><circle cx="1356" cy="435" r="6.6"/><circle cx="1354.4" cy="442.4" r="6.6"/><circle cx="1378.6" cy="431" r="6.6"/><circle cx="1388.6" cy="433.6" r="6.6"/><circle cx="1380.6" cy="437.4" r="6.6"/><circle cx="1405" cy="429" r="6.6"/><circle cx="1404.6" cy="452.6" r="6.6"/><circle cx="1371" cy="456" r="6.6"/><circle cx="1373" cy="461" r="6.6"/><circle cx="1438.6" cy="433" r="6.6"/><circle cx="1453" cy="438.4" r="6.6"/><circle cx="1457.6" cy="446" r="6.6"/><circle cx="1445.6" cy="449" r="6.6"/><circle cx="1484.6" cy="447.4" r="6.6"/><circle cx="1525" cy="449.6" r="6.6"/><circle cx="1525" cy="466" r="6.6"/><circle cx="1526" cy="478" r="6.6"/><circle cx="1317.4" cy="473.4" r="6.6"/><circle cx="1334" cy="470.6" r="6.6"/><circle cx="1356" cy="472.6" r="6.6"/><circle cx="1364" cy="481" r="6.6"/><circle cx="1384" cy="471.6" r="6.6"/><circle cx="1388" cy="472.6" r="6.6"/><circle cx="1395" cy="481.4" r="6.6"/><circle cx="1422" cy="478.4" r="6.6"/><circle cx="1482.4" cy="470.4" r="6.6"/><circle cx="1507" cy="471" r="6.6"/><circle cx="1280" cy="483.4" r="6.6"/></g>
<line x1="52.55" y1="543.9" x2="1526.3" y2="543.9" stroke="#dcdcdc" stroke-width="1"/>
<line x1="52.55" y1="570.4" x2="1526.3" y2="570.4" stroke="#dcdcdc" stroke-width="1"/>
<line x1="52.55" y1="596.8" x2="1526.3" y2="596.8" stroke="#dcdcdc" stroke-width="1"/>
<line x1="52.55" y1="623.3" x2="1526.3" y2="623.3" stroke="#dcdcdc" stroke-width="1"/>
<line x1="52.55" y1="543.9" x2="67.55" y2="543.9" stroke="#1e1e1e" stroke-width="1.35"/>
<line x1="1511.3" y1="543.9" x2="1526.3" y2="543.9" stroke="#1e1e1e" stroke-width="1.35"/>
<line x1="52.55" y1="570.4" x2="67.55" y2="570.4" stroke="#1e1e1e" stroke-width="1.35"/>
<line x1="1511.3" y1="570.4" x2="1526.3" y2="570.4" stroke="#1e1e1e" stroke-width="1.35"/>
<line x1="52.55" y1="596.8" x2="67.55" y2="596.8" stroke="#1e1e1e" stroke-width="1.35"/>
<line x1="1511.3" y1="596.8" x2="1526.3" y2="596.8" stroke="#1e1e1e" stroke-width="1.35"/>
<line x1="52.55" y1="623.3" x2="67.55" y2="623.3" stroke="#1e1e1e" stroke-width="1.35"/>
<line x1="1511.3" y1="623.3" x2="1526.3" y2="623.3" stroke="#1e1e1e" stroke-width="1.35"/>
<rect x="52.55" y="531.4" width="1473.75" height="117.6" fill="none" stroke="#1e1e1e" stroke-width="1.35"/>
<text x="48.4" y="548.75" font-size="12" text-anchor="end" fill="#262626" stroke="#262626" stroke-width="0.2">4000</text>
<text x="48.4" y="575.25" font-size="12" text-anchor="end" fill="#262626" stroke="#262626" stroke-width="0.2">3000</text>
<text x="48.4" y="601.65" font-size="12" text-anchor="end" fill="#262626" stroke="#262626" stroke-width="0.2">2000</text>
<text x="48.4" y="628.15" font-size="12" text-anchor="end" fill="#262626" stroke="#262626" stroke-width="0.2">1000</text>
<text transform="translate(14.2,590.2) rotate(-90)" font-size="20" text-anchor="middle" fill="#262626" stroke="#262626" stroke-width="0.3">Ferritin (ng/ml)</text>
<g fill="#f50000"><circle cx="139" cy="641" r="6.5"/><circle cx="185" cy="626.6" r="6.5"/><circle cx="209.6" cy="636" r="6.5"/><circle cx="247" cy="647" r="6.5"/><circle cx="295" cy="640" r="6.5"/><circle cx="402" cy="610.4" r="6.5"/><circle cx="547" cy="589.4" r="6.5"/><circle cx="453" cy="633" r="6.5"/><circle cx="438" cy="643.4" r="6.5"/><circle cx="465" cy="648.4" r="6.5"/><circle cx="538" cy="635.6" r="6.5"/><circle cx="562.6" cy="636.4" r="6.5"/><circle cx="895" cy="531" r="6.5"/><circle cx="738" cy="622.4" r="6.5"/><circle cx="737.4" cy="648.4" r="6.5"/><circle cx="784" cy="646" r="6.5"/><circle cx="794.6" cy="639.4" r="6.5"/><circle cx="1017.6" cy="630.4" r="6.5"/><circle cx="1128.4" cy="643" r="6.5"/><circle cx="1192.4" cy="648.6" r="6.5"/><circle cx="1383.4" cy="583.6" r="6.5"/><circle cx="1452" cy="635" r="6.5"/><circle cx="1422" cy="648.6" r="6.5"/></g>
<g fill="none" stroke="#2424bc" stroke-width="1.2"><circle cx="134.4" cy="589" r="6.6"/><circle cx="164.4" cy="594" r="6.6"/><circle cx="231" cy="590" r="6.6"/><circle cx="148" cy="613" r="6.6"/><circle cx="172" cy="614" r="6.6"/><circle cx="216" cy="612" r="6.6"/><circle cx="229" cy="608.6" r="6.6"/><circle cx="235" cy="612" r="6.6"/><circle cx="74" cy="618" r="6.6"/><circle cx="83" cy="625.6" r="6.6"/><circle cx="151" cy="628" r="6.6"/><circle cx="166.4" cy="629.6" r="6.6"/><circle cx="220.6" cy="629" r="6.6"/><circle cx="231.6" cy="630" r="6.6"/><circle cx="248" cy="629.4" r="6.6"/><circle cx="240" cy="633.4" r="6.6"/><circle cx="327" cy="633" r="6.6"/><circle cx="307.4" cy="636" r="6.6"/><circle cx="59" cy="636" r="6.6"/><circle cx="60" cy="640" r="6.6"/><circle cx="83" cy="638" r="6.6"/><circle cx="84.4" cy="642" r="6.6"/><circle cx="115.6" cy="635.6" r="6.6"/><circle cx="129" cy="634" r="6.6"/><circle cx="145" cy="638" r="6.6"/><circle cx="185.6" cy="639" r="6.6"/><circle cx="199.6" cy="637" r="6.6"/><circle cx="225.6" cy="638.6" r="6.6"/><circle cx="244" cy="639" r="6.6"/><circle cx="291.4" cy="637" r="6.6"/><circle cx="313" cy="641.4" r="6.6"/><circle cx="322" cy="640" r="6.6"/><circle cx="338" cy="638" r="6.6"/><circle cx="336" cy="642.4" r="6.6"/><circle cx="52" cy="648.6" r="6.6"/><circle cx="61" cy="644" r="6.6"/><circle cx="65" cy="644" r="6.6"/><circle cx="68" cy="643" r="6.6"/><circle cx="71" cy="648" r="6.6"/><circle cx="97" cy="646.4" r="6.6"/><circle cx="114" cy="646.4" r="6.6"/><circle cx="128.6" cy="648" r="6.6"/><circle cx="190" cy="646" r="6.6"/><circle cx="189.6" cy="648.6" r="6.6"/><circle cx="198" cy="647" r="6.6"/><circle cx="206" cy="645" r="6.6"/><circle cx="210.2" cy="636.8" r="6.6"/><circle cx="213" cy="643" r="6.6"/><circle cx="217" cy="648" r="6.6"/><circle cx="222" cy="649" r="6.6"/><circle cx="238" cy="644" r="6.6"/><circle cx="242" cy="648" r="6.6"/><circle cx="247" cy="640" r="6.6"/><circle cx="271.4" cy="646.4" r="6.6"/><circle cx="291" cy="649" r="6.6"/><circle cx="298" cy="644" r="6.6"/><circle cx="303.6" cy="645" r="6.6"/><circle cx="407.4" cy="565" r="6.6"/><circle cx="509.6" cy="560" r="6.6"/><circle cx="379.6" cy="587.6" r="6.6"/><circle cx="412.4" cy="592.4" r="6.6"/><circle cx="492" cy="587" r="6.6"/><circle cx="639.8" cy="585.1" r="6.6"/><circle cx="579" cy="600.4" r="6.6"/><circle cx="425.6" cy="612" r="6.6"/><circle cx="357" cy="626" r="6.6"/><circle cx="489" cy="626.6" r="6.6"/><circle cx="512" cy="629.4" r="6.6"/><circle cx="542.4" cy="625" r="6.6"/><circle cx="550" cy="629" r="6.6"/><circle cx="589" cy="626" r="6.6"/><circle cx="604" cy="631.4" r="6.6"/><circle cx="528" cy="633" r="6.6"/><circle cx="625" cy="636.6" r="6.6"/><circle cx="606" cy="642.4" r="6.6"/><circle cx="635.4" cy="642.3" r="6.6"/><circle cx="352" cy="646.4" r="6.6"/><circle cx="361" cy="645" r="6.6"/><circle cx="371" cy="646" r="6.6"/><circle cx="372" cy="648" r="6.6"/><circle cx="379" cy="641" r="6.6"/><circle cx="385" cy="640" r="6.6"/><circle cx="393.6" cy="643.4" r="6.6"/><circle cx="404.4" cy="633.4" r="6.6"/><circle cx="406" cy="638" r="6.6"/><circle cx="405.6" cy="643.4" r="6.6"/><circle cx="413" cy="636" r="6.6"/><circle cx="414" cy="640" r="6.6"/><circle cx="420" cy="638.6" r="6.6"/><circle cx="431.4" cy="643.4" r="6.6"/><circle cx="477" cy="645.4" r="6.6"/><circle cx="480" cy="641" r="6.6"/><circle cx="484.4" cy="635" r="6.6"/><circle cx="489.6" cy="643" r="6.6"/><circle cx="490" cy="648" r="6.6"/><circle cx="505" cy="636" r="6.6"/><circle cx="505" cy="640.6" r="6.6"/><circle cx="504" cy="645.4" r="6.6"/><circle cx="516.4" cy="647.6" r="6.6"/><circle cx="554" cy="648.4" r="6.6"/><circle cx="687.4" cy="597" r="6.6"/><circle cx="647" cy="612" r="6.6"/><circle cx="640.3" cy="629.6" r="6.6"/><circle cx="642" cy="647.9" r="6.6"/><circle cx="669" cy="625.4" r="6.6"/><circle cx="667" cy="637" r="6.6"/><circle cx="659" cy="637" r="6.6"/><circle cx="656" cy="641.4" r="6.6"/><circle cx="696.6" cy="619.6" r="6.6"/><circle cx="699" cy="628" r="6.6"/><circle cx="690" cy="641.6" r="6.6"/><circle cx="687.6" cy="644" r="6.6"/><circle cx="682" cy="648.6" r="6.6"/><circle cx="716" cy="634" r="6.6"/><circle cx="723" cy="648.6" r="6.6"/><circle cx="740" cy="636.6" r="6.6"/><circle cx="746.6" cy="632" r="6.6"/><circle cx="754" cy="639" r="6.6"/><circle cx="757" cy="644" r="6.6"/><circle cx="758.6" cy="648" r="6.6"/><circle cx="767.4" cy="631" r="6.6"/><circle cx="776.6" cy="646" r="6.6"/><circle cx="781" cy="618" r="6.6"/><circle cx="789.4" cy="605.4" r="6.6"/><circle cx="803" cy="647" r="6.6"/><circle cx="804.4" cy="647.6" r="6.6"/><circle cx="813.4" cy="620.4" r="6.6"/><circle cx="838" cy="620.6" r="6.6"/><circle cx="839.6" cy="631.4" r="6.6"/><circle cx="839.6" cy="644" r="6.6"/><circle cx="858" cy="643.6" r="6.6"/><circle cx="884.4" cy="596" r="6.6"/><circle cx="893.6" cy="603.4" r="6.6"/><circle cx="879.6" cy="608.6" r="6.6"/><circle cx="897" cy="611.4" r="6.6"/><circle cx="887.6" cy="636.6" r="6.6"/><circle cx="881.6" cy="644.6" r="6.6"/><circle cx="887.6" cy="648" r="6.6"/><circle cx="894" cy="644.4" r="6.6"/><circle cx="907.4" cy="635.6" r="6.6"/><circle cx="921.6" cy="647" r="6.6"/><circle cx="929" cy="648.6" r="6.6"/><circle cx="937.1" cy="641" r="6.6"/><circle cx="1170" cy="540.6" r="6.6"/><circle cx="1022" cy="558.6" r="6.6"/><circle cx="1219" cy="569" r="6.6"/><circle cx="1172" cy="589" r="6.6"/><circle cx="1048.6" cy="599.4" r="6.6"/><circle cx="1222.4" cy="610" r="6.6"/><circle cx="1079.4" cy="615.4" r="6.6"/><circle cx="981" cy="624" r="6.6"/><circle cx="982" cy="624.6" r="6.6"/><circle cx="1099" cy="624.6" r="6.6"/><circle cx="1074" cy="627.4" r="6.6"/><circle cx="1113" cy="628" r="6.6"/><circle cx="1058.4" cy="634.6" r="6.6"/><circle cx="943.6" cy="634.5" r="6.6"/><circle cx="973" cy="633.4" r="6.6"/><circle cx="974.4" cy="638.4" r="6.6"/><circle cx="988" cy="638.4" r="6.6"/><circle cx="991" cy="640" r="6.6"/><circle cx="1000" cy="639" r="6.6"/><circle cx="1004" cy="636" r="6.6"/><circle cx="990" cy="647" r="6.6"/><circle cx="1071" cy="637" r="6.6"/><circle cx="1071" cy="644.6" r="6.6"/><circle cx="1078" cy="646" r="6.6"/><circle cx="1107" cy="635" r="6.6"/><circle cx="1108" cy="632" r="6.6"/><circle cx="1037" cy="644" r="6.6"/><circle cx="1043" cy="647.6" r="6.6"/><circle cx="1054" cy="646.4" r="6.6"/><circle cx="1089" cy="648.4" r="6.6"/><circle cx="1101" cy="648" r="6.6"/><circle cx="1124" cy="648.6" r="6.6"/><circle cx="1128" cy="641.4" r="6.6"/><circle cx="1140.6" cy="639.6" r="6.6"/><circle cx="1152.6" cy="646.6" r="6.6"/><circle cx="1169.6" cy="641.6" r="6.6"/><circle cx="1171.6" cy="635.4" r="6.6"/><circle cx="1191.9" cy="648.6" r="6.6"/><circle cx="1202.6" cy="647" r="6.6"/><circle cx="1204.4" cy="643" r="6.6"/><circle cx="1218" cy="642.6" r="6.6"/><circle cx="1222.4" cy="640.6" r="6.6"/><circle cx="1235" cy="648.4" r="6.6"/><circle cx="1238" cy="647" r="6.6"/><circle cx="1414.4" cy="546.6" r="6.6"/><circle cx="1397" cy="590.6" r="6.6"/><circle cx="1247.4" cy="615" r="6.6"/><circle cx="1438.4" cy="617" r="6.6"/><circle cx="1329.6" cy="623.4" r="6.6"/><circle cx="1322" cy="629" r="6.6"/><circle cx="1320" cy="634" r="6.6"/><circle cx="1319" cy="639" r="6.6"/><circle cx="1317" cy="643" r="6.6"/><circle cx="1317" cy="648" r="6.6"/><circle cx="1339" cy="632" r="6.6"/><circle cx="1338" cy="636" r="6.6"/><circle cx="1337" cy="642" r="6.6"/><circle cx="1343" cy="645" r="6.6"/><circle cx="1353.4" cy="643" r="6.6"/><circle cx="1366" cy="645" r="6.6"/><circle cx="1362" cy="648" r="6.6"/><circle cx="1375.4" cy="631" r="6.6"/><circle cx="1386" cy="645.4" r="6.6"/><circle cx="1396" cy="648" r="6.6"/><circle cx="1403.6" cy="634" r="6.6"/><circle cx="1410.6" cy="648" r="6.6"/><circle cx="1421" cy="643" r="6.6"/><circle cx="1435" cy="648" r="6.6"/><circle cx="1442.4" cy="648" r="6.6"/><circle cx="1455" cy="636.6" r="6.6"/><circle cx="1255" cy="636" r="6.6"/><circle cx="1260.4" cy="635.6" r="6.6"/><circle cx="1248.6" cy="643" r="6.6"/><circle cx="1254" cy="645" r="6.6"/><circle cx="1260.4" cy="648" r="6.6"/><circle cx="1268" cy="643" r="6.6"/><circle cx="1272" cy="649" r="6.6"/><circle cx="1291" cy="644.6" r="6.6"/><circle cx="1296.4" cy="646.4" r="6.6"/><circle cx="1478.4" cy="648.4" r="6.6"/><circle cx="1492" cy="627" r="6.6"/><circle cx="1510" cy="626.4" r="6.6"/><circle cx="1518" cy="633" r="6.6"/><circle cx="1491" cy="643" r="6.6"/><circle cx="1499" cy="647" r="6.6"/><circle cx="1503" cy="641.4" r="6.6"/><circle cx="1509" cy="644.4" r="6.6"/><circle cx="1512" cy="647" r="6.6"/><circle cx="1522" cy="649" r="6.6"/><circle cx="1526" cy="641" r="6.6"/><circle cx="1525" cy="645" r="6.6"/></g>
<line x1="52.55" y1="711.6" x2="1526.3" y2="711.6" stroke="#dcdcdc" stroke-width="1"/>
<line x1="52.55" y1="738.1" x2="1526.3" y2="738.1" stroke="#dcdcdc" stroke-width="1"/>
<line x1="52.55" y1="764.5" x2="1526.3" y2="764.5" stroke="#dcdcdc" stroke-width="1"/>
<line x1="52.55" y1="790.9" x2="1526.3" y2="790.9" stroke="#dcdcdc" stroke-width="1"/>
<line x1="52.55" y1="711.6" x2="67.55" y2="711.6" stroke="#1e1e1e" stroke-width="1.35"/>
<line x1="1511.3" y1="711.6" x2="1526.3" y2="711.6" stroke="#1e1e1e" stroke-width="1.35"/>
<line x1="52.55" y1="738.1" x2="67.55" y2="738.1" stroke="#1e1e1e" stroke-width="1.35"/>
<line x1="1511.3" y1="738.1" x2="1526.3" y2="738.1" stroke="#1e1e1e" stroke-width="1.35"/>
<line x1="52.55" y1="764.5" x2="67.55" y2="764.5" stroke="#1e1e1e" stroke-width="1.35"/>
<line x1="1511.3" y1="764.5" x2="1526.3" y2="764.5" stroke="#1e1e1e" stroke-width="1.35"/>
<line x1="52.55" y1="790.9" x2="67.55" y2="790.9" stroke="#1e1e1e" stroke-width="1.35"/>
<line x1="1511.3" y1="790.9" x2="1526.3" y2="790.9" stroke="#1e1e1e" stroke-width="1.35"/>
<rect x="52.55" y="694.8" width="1473.75" height="117.8" fill="none" stroke="#1e1e1e" stroke-width="1.35"/>
<text x="48.4" y="716.45" font-size="12" text-anchor="end" fill="#262626" stroke="#262626" stroke-width="0.2">4000</text>
<text x="48.4" y="742.95" font-size="12" text-anchor="end" fill="#262626" stroke="#262626" stroke-width="0.2">3000</text>
<text x="48.4" y="769.35" font-size="12" text-anchor="end" fill="#262626" stroke="#262626" stroke-width="0.2">2000</text>
<text x="48.4" y="795.75" font-size="12" text-anchor="end" fill="#262626" stroke="#262626" stroke-width="0.2">1000</text>
<text transform="translate(14.2,755.2) rotate(-90)" font-size="20" text-anchor="middle" fill="#262626" stroke="#262626" stroke-width="0.3">DDIMER (ng/ml)</text>
<g fill="#f50000"><circle cx="120" cy="698" r="6.5"/><circle cx="195.4" cy="812.4" r="6.5"/><circle cx="242" cy="805.4" r="6.5"/><circle cx="338" cy="801" r="6.5"/><circle cx="452" cy="802.4" r="6.5"/><circle cx="507" cy="800" r="6.5"/><circle cx="543" cy="805" r="6.5"/><circle cx="862.6" cy="694.6" r="6.5"/><circle cx="806" cy="786.6" r="6.5"/><circle cx="720" cy="795" r="6.5"/><circle cx="860.6" cy="795.6" r="6.5"/><circle cx="1055" cy="770" r="6.5"/><circle cx="1078.4" cy="778.4" r="6.5"/><circle cx="1119.4" cy="802.6" r="6.5"/><circle cx="1304" cy="767.4" r="6.5"/><circle cx="1283" cy="800.4" r="6.5"/><circle cx="1274.4" cy="807.4" r="6.5"/><circle cx="1305" cy="799.4" r="6.5"/><circle cx="1350.6" cy="798.4" r="6.5"/><circle cx="1404.6" cy="781.6" r="6.5"/><circle cx="1420.4" cy="790" r="6.5"/><circle cx="1464.4" cy="812.4" r="6.5"/><circle cx="1485" cy="799.4" r="6.5"/><circle cx="1523" cy="782.4" r="6.5"/></g>
<g fill="none" stroke="#2424bc" stroke-width="1.2"><circle cx="154.6" cy="746.4" r="6.6"/><circle cx="284.4" cy="759.6" r="6.6"/><circle cx="123.6" cy="770.6" r="6.6"/><circle cx="157.4" cy="771" r="6.6"/><circle cx="324" cy="770" r="6.6"/><circle cx="206" cy="779.6" r="6.6"/><circle cx="231" cy="785" r="6.6"/><circle cx="250.4" cy="786" r="6.6"/><circle cx="82" cy="788.6" r="6.6"/><circle cx="154.4" cy="789.6" r="6.6"/><circle cx="160.6" cy="791.4" r="6.6"/><circle cx="211.6" cy="791.6" r="6.6"/><circle cx="281.6" cy="791" r="6.6"/><circle cx="103" cy="795" r="6.6"/><circle cx="268" cy="795.4" r="6.6"/><circle cx="277" cy="796" r="6.6"/><circle cx="308" cy="796.6" r="6.6"/><circle cx="309.6" cy="797.6" r="6.6"/><circle cx="323" cy="796" r="6.6"/><circle cx="203.4" cy="795" r="6.6"/><circle cx="165.6" cy="798.4" r="6.6"/><circle cx="187.4" cy="797.6" r="6.6"/><circle cx="201" cy="798" r="6.6"/><circle cx="215.4" cy="799.6" r="6.6"/><circle cx="216.4" cy="801" r="6.6"/><circle cx="239" cy="798.6" r="6.6"/><circle cx="252" cy="799.4" r="6.6"/><circle cx="287.4" cy="799.4" r="6.6"/><circle cx="275" cy="801.4" r="6.6"/><circle cx="68" cy="799.6" r="6.6"/><circle cx="67" cy="801" r="6.6"/><circle cx="70" cy="799" r="6.6"/><circle cx="53.6" cy="803" r="6.6"/><circle cx="52" cy="807" r="6.6"/><circle cx="88.6" cy="802.6" r="6.6"/><circle cx="105" cy="803" r="6.6"/><circle cx="136.6" cy="801.6" r="6.6"/><circle cx="151" cy="800.6" r="6.6"/><circle cx="148" cy="809" r="6.6"/><circle cx="162" cy="802.6" r="6.6"/><circle cx="188" cy="803" r="6.6"/><circle cx="196" cy="806" r="6.6"/><circle cx="258" cy="803.4" r="6.6"/><circle cx="307" cy="806.6" r="6.6"/><circle cx="306" cy="812" r="6.6"/><circle cx="240.6" cy="813" r="6.6"/><circle cx="328.6" cy="802.6" r="6.6"/><circle cx="459.6" cy="696" r="6.6"/><circle cx="537" cy="707" r="6.6"/><circle cx="360" cy="754" r="6.6"/><circle cx="360.4" cy="782" r="6.6"/><circle cx="476" cy="772" r="6.6"/><circle cx="452.6" cy="776.4" r="6.6"/><circle cx="484.4" cy="783" r="6.6"/><circle cx="506.4" cy="781.6" r="6.6"/><circle cx="565.4" cy="779" r="6.6"/><circle cx="585" cy="782.6" r="6.6"/><circle cx="628.6" cy="782.4" r="6.6"/><circle cx="533" cy="783" r="6.6"/><circle cx="536.6" cy="786.6" r="6.6"/><circle cx="539.4" cy="792" r="6.6"/><circle cx="401" cy="787" r="6.6"/><circle cx="446" cy="791" r="6.6"/><circle cx="452" cy="790" r="6.6"/><circle cx="523.6" cy="792.4" r="6.6"/><circle cx="622" cy="791" r="6.6"/><circle cx="354" cy="803.6" r="6.6"/><circle cx="390" cy="802.4" r="6.6"/><circle cx="394" cy="798.6" r="6.6"/><circle cx="409.6" cy="798.4" r="6.6"/><circle cx="420.6" cy="801" r="6.6"/><circle cx="430" cy="799" r="6.6"/><circle cx="444" cy="797.6" r="6.6"/><circle cx="460.6" cy="798" r="6.6"/><circle cx="456" cy="806" r="6.6"/><circle cx="455" cy="808" r="6.6"/><circle cx="481.6" cy="799" r="6.6"/><circle cx="488" cy="800" r="6.6"/><circle cx="503.4" cy="804" r="6.6"/><circle cx="509" cy="798" r="6.6"/><circle cx="518.4" cy="799" r="6.6"/><circle cx="527" cy="800.4" r="6.6"/><circle cx="515.6" cy="808.4" r="6.6"/><circle cx="550.6" cy="799" r="6.6"/><circle cx="563.4" cy="798.6" r="6.6"/><circle cx="558" cy="806.6" r="6.6"/><circle cx="578" cy="806" r="6.6"/><circle cx="589.4" cy="799.6" r="6.6"/><circle cx="607" cy="801.4" r="6.6"/><circle cx="628" cy="800.6" r="6.6"/><circle cx="635.4" cy="802.7" r="6.6"/><circle cx="641.1" cy="806.3" r="6.6"/><circle cx="407" cy="810.4" r="6.6"/><circle cx="436" cy="812.6" r="6.6"/><circle cx="495" cy="811.4" r="6.6"/><circle cx="804.4" cy="701.6" r="6.6"/><circle cx="714" cy="725.6" r="6.6"/><circle cx="696.4" cy="755.4" r="6.6"/><circle cx="680.4" cy="784.4" r="6.6"/><circle cx="683" cy="789" r="6.6"/><circle cx="712.4" cy="781" r="6.6"/><circle cx="721" cy="786.4" r="6.6"/><circle cx="749.6" cy="785" r="6.6"/><circle cx="793" cy="788" r="6.6"/><circle cx="855" cy="782" r="6.6"/><circle cx="853.6" cy="788" r="6.6"/><circle cx="862.6" cy="788" r="6.6"/><circle cx="887" cy="780" r="6.6"/><circle cx="888" cy="781" r="6.6"/><circle cx="910" cy="777.4" r="6.6"/><circle cx="906.6" cy="784" r="6.6"/><circle cx="931" cy="791.4" r="6.6"/><circle cx="661" cy="794" r="6.6"/><circle cx="663.6" cy="801" r="6.6"/><circle cx="647.6" cy="799" r="6.6"/><circle cx="651" cy="802.4" r="6.6"/><circle cx="682" cy="796" r="6.6"/><circle cx="685" cy="802" r="6.6"/><circle cx="692" cy="801" r="6.6"/><circle cx="700" cy="803" r="6.6"/><circle cx="712" cy="795" r="6.6"/><circle cx="714" cy="798" r="6.6"/><circle cx="721" cy="803" r="6.6"/><circle cx="735.6" cy="801" r="6.6"/><circle cx="735" cy="804" r="6.6"/><circle cx="742" cy="810.4" r="6.6"/><circle cx="751" cy="802.6" r="6.6"/><circle cx="767" cy="802.4" r="6.6"/><circle cx="771.4" cy="798.4" r="6.6"/><circle cx="805" cy="799.6" r="6.6"/><circle cx="832" cy="803" r="6.6"/><circle cx="838" cy="807" r="6.6"/><circle cx="859.4" cy="802.5" r="6.6"/><circle cx="858.4" cy="803.4" r="6.6"/><circle cx="869.6" cy="798" r="6.6"/><circle cx="875" cy="804" r="6.6"/><circle cx="886.6" cy="799.4" r="6.6"/><circle cx="904" cy="804.6" r="6.6"/><circle cx="910" cy="806" r="6.6"/><circle cx="921.5" cy="801.1" r="6.6"/><circle cx="928" cy="798" r="6.6"/><circle cx="932" cy="804" r="6.6"/><circle cx="940.3" cy="800.3" r="6.6"/><circle cx="974.4" cy="697" r="6.6"/><circle cx="1160.4" cy="715" r="6.6"/><circle cx="1171.6" cy="729" r="6.6"/><circle cx="956.4" cy="770.4" r="6.6"/><circle cx="976" cy="773.4" r="6.6"/><circle cx="962.6" cy="782" r="6.6"/><circle cx="1013.4" cy="768" r="6.6"/><circle cx="1007.6" cy="773" r="6.6"/><circle cx="972" cy="789" r="6.6"/><circle cx="1033.6" cy="787.4" r="6.6"/><circle cx="1043" cy="787" r="6.6"/><circle cx="1219" cy="782" r="6.6"/><circle cx="1238.1" cy="781.5" r="6.6"/><circle cx="1225" cy="793" r="6.6"/><circle cx="1231" cy="799" r="6.6"/><circle cx="1224" cy="811.6" r="6.6"/><circle cx="1120.6" cy="792" r="6.6"/><circle cx="1163.6" cy="789.6" r="6.6"/><circle cx="1171.4" cy="785.6" r="6.6"/><circle cx="1175" cy="791" r="6.6"/><circle cx="1183" cy="793.6" r="6.6"/><circle cx="1182" cy="799.4" r="6.6"/><circle cx="1159" cy="801" r="6.6"/><circle cx="1166" cy="800" r="6.6"/><circle cx="1173.6" cy="802" r="6.6"/><circle cx="1179" cy="804" r="6.6"/><circle cx="1180.6" cy="807" r="6.6"/><circle cx="1196" cy="802" r="6.6"/><circle cx="1197.4" cy="803" r="6.6"/><circle cx="947" cy="801" r="6.6"/><circle cx="950" cy="796" r="6.6"/><circle cx="959" cy="796" r="6.6"/><circle cx="959.6" cy="800" r="6.6"/><circle cx="958.4" cy="805.6" r="6.6"/><circle cx="973.4" cy="802.6" r="6.6"/><circle cx="979" cy="798" r="6.6"/><circle cx="980" cy="803" r="6.6"/><circle cx="1010" cy="800" r="6.6"/><circle cx="1018.6" cy="803" r="6.6"/><circle cx="1026.6" cy="806" r="6.6"/><circle cx="1041.6" cy="795" r="6.6"/><circle cx="1047" cy="801" r="6.6"/><circle cx="1059" cy="801" r="6.6"/><circle cx="1056.6" cy="806" r="6.6"/><circle cx="1091" cy="797" r="6.6"/><circle cx="1107.4" cy="799.4" r="6.6"/><circle cx="1126.4" cy="805.6" r="6.6"/><circle cx="1150" cy="805.6" r="6.6"/><circle cx="1306" cy="705" r="6.6"/><circle cx="1248" cy="743.4" r="6.6"/><circle cx="1251.4" cy="745.6" r="6.6"/><circle cx="1290" cy="753" r="6.6"/><circle cx="1363" cy="742" r="6.6"/><circle cx="1473" cy="759" r="6.6"/><circle cx="1502" cy="759" r="6.6"/><circle cx="1344" cy="781" r="6.6"/><circle cx="1369.4" cy="783.6" r="6.6"/><circle cx="1461.6" cy="782.4" r="6.6"/><circle cx="1418" cy="784.4" r="6.6"/><circle cx="1430" cy="785" r="6.6"/><circle cx="1409" cy="787.4" r="6.6"/><circle cx="1494" cy="783.4" r="6.6"/><circle cx="1499" cy="782" r="6.6"/><circle cx="1311.4" cy="785" r="6.6"/><circle cx="1308.6" cy="792" r="6.6"/><circle cx="1350" cy="791" r="6.6"/><circle cx="1325.6" cy="793" r="6.6"/><circle cx="1526" cy="792" r="6.6"/><circle cx="1244" cy="800" r="6.6"/><circle cx="1265" cy="803.4" r="6.6"/><circle cx="1301.6" cy="809" r="6.6"/><circle cx="1307" cy="805.6" r="6.6"/><circle cx="1316" cy="802" r="6.6"/><circle cx="1326.6" cy="799" r="6.6"/><circle cx="1330" cy="803" r="6.6"/><circle cx="1340" cy="802.6" r="6.6"/><circle cx="1345" cy="811.4" r="6.6"/><circle cx="1346" cy="800" r="6.6"/><circle cx="1355" cy="797" r="6.6"/><circle cx="1381" cy="811" r="6.6"/><circle cx="1425.4" cy="801" r="6.6"/><circle cx="1441" cy="803" r="6.6"/><circle cx="1445.4" cy="809" r="6.6"/><circle cx="1454" cy="801.6" r="6.6"/><circle cx="1470" cy="799.4" r="6.6"/><circle cx="1475" cy="798" r="6.6"/><circle cx="1473" cy="804" r="6.6"/><circle cx="1494" cy="802.4" r="6.6"/><circle cx="1500" cy="801" r="6.6"/><circle cx="1502" cy="807" r="6.6"/><circle cx="1508" cy="803.6" r="6.6"/><circle cx="1515" cy="796" r="6.6"/><circle cx="1517" cy="795" r="6.6"/></g>
</svg></body></html>
